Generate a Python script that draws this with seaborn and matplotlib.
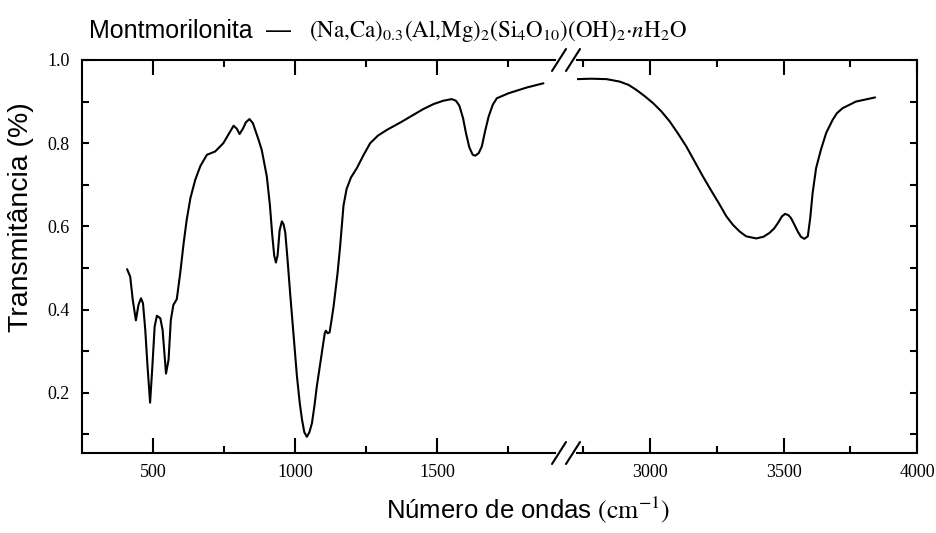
import matplotlib
matplotlib.use("Agg")
import matplotlib.pyplot as plt
from matplotlib.lines import Line2D
import seaborn as sns
import pandas as pd

# ---- data ----
left_wn = [407, 418, 427, 438, 447, 456, 463, 471, 479, 488, 496, 504, 512, 524, 532,
           544, 553, 561, 570, 582, 594, 606, 617, 630, 647, 665, 688, 717, 746, 770,
           782, 793, 803, 815, 825, 838, 850, 858, 870, 881, 899, 910, 918, 925, 931,
           937, 944, 952, 958, 964, 972, 981, 993, 1005, 1015, 1023, 1031, 1040, 1049,
           1058, 1067, 1075, 1086, 1096, 1103, 1107, 1113, 1120, 1127, 1134, 1148, 1157,
           1169, 1180, 1195, 1216, 1240, 1263, 1290, 1322, 1370, 1415, 1450, 1486, 1520,
           1550, 1565, 1577, 1590, 1600, 1612, 1624, 1633, 1645, 1656, 1668, 1680, 1695,
           1709, 1750, 1815, 1873]
left_t = [0.497, 0.479, 0.423, 0.374, 0.411, 0.427, 0.415, 0.351, 0.263, 0.176, 0.263,
          0.359, 0.385, 0.379, 0.351, 0.246, 0.279, 0.375, 0.411, 0.425, 0.487, 0.559,
          0.616, 0.668, 0.712, 0.745, 0.772, 0.780, 0.800, 0.828, 0.842, 0.835, 0.822,
          0.835, 0.850, 0.858, 0.848, 0.832, 0.808, 0.784, 0.720, 0.650, 0.580, 0.530,
          0.513, 0.530, 0.590, 0.612, 0.605, 0.585, 0.520, 0.440, 0.340, 0.240, 0.175,
          0.135, 0.105, 0.094, 0.105, 0.127, 0.170, 0.215, 0.265, 0.311, 0.343, 0.349,
          0.343, 0.345, 0.375, 0.407, 0.487, 0.551, 0.650, 0.690, 0.717, 0.740, 0.772,
          0.800, 0.818, 0.832, 0.850, 0.868, 0.882, 0.894, 0.902, 0.906, 0.902, 0.890,
          0.860, 0.825, 0.790, 0.772, 0.770, 0.776, 0.792, 0.830, 0.864, 0.893, 0.908,
          0.920, 0.934, 0.944]

right_wn = [2726, 2780, 2837, 2887, 2920, 2949, 2980, 3012, 3043, 3074, 3105, 3136, 3167,
            3198, 3230, 3261, 3285, 3310, 3335, 3360, 3398, 3425, 3447, 3465, 3479, 3494,
            3506, 3518, 3528, 3540, 3553, 3565, 3578, 3591, 3600, 3609, 3622, 3640, 3660,
            3684, 3700, 3721, 3771, 3843]
right_t = [0.954, 0.955, 0.954, 0.948, 0.940, 0.928, 0.913, 0.896, 0.876, 0.852, 0.823,
           0.792, 0.756, 0.720, 0.685, 0.652, 0.625, 0.604, 0.588, 0.576, 0.571, 0.575,
           0.584, 0.595, 0.608, 0.624, 0.630, 0.627, 0.620, 0.605, 0.588, 0.575, 0.570,
           0.576, 0.620, 0.680, 0.740, 0.784, 0.825, 0.856, 0.872, 0.884, 0.900, 0.910]

left_major = [500, 1000, 1500]
left_minor = [750, 1250, 1750]
right_major = [3000, 3500, 4000]
right_minor = [2750, 3250, 3750]
y_major = [0.2, 0.4, 0.6, 0.8, 1.0]
y_major_labels = ["0.2", "0.4", "0.6", "0.8", "1.0"]
y_minor = [0.1, 0.3, 0.5, 0.7, 0.9]

title_name = "Montmorilonita"
title_dash = "\u2014"
title_formula = (r"$\mathrm{(Na,\!Ca)_{0.3}(Al,\!Mg)_2(Si_4O_{10})(OH)_2{\cdot}}"
                 r"\mathit{n}\mathrm{H_2O}$")
xlabel = r"Número de ondas $\mathrm{(cm^{-1})}$"
ylabel = "Transmitância (%)"

# ---- figure ----
sns.set_style("ticks")
plt.rcParams.update({"text.color": "black", "xtick.color": "black",
                     "ytick.color": "black", "axes.labelcolor": "black"})
W, H = 937, 533
fig = plt.figure(figsize=(W / 100, H / 100), dpi=100)

bot = (H - 453) / H
hgt = (453 - 60) / H
axL = fig.add_axes([82.5 / W, bot, (555 - 82.5) / W, hgt])
axR = fig.add_axes([577 / W, bot, (917 - 577) / W, hgt])

dfL = pd.DataFrame({"wn": left_wn, "T": left_t})
dfR = pd.DataFrame({"wn": right_wn, "T": right_t})
sns.lineplot(data=dfL, x="wn", y="T", ax=axL, color="black", lw=1.5, estimator=None, sort=False)
sns.lineplot(data=dfR, x="wn", y="T", ax=axR, color="black", lw=1.5, estimator=None, sort=False)

axL.set_xlim(250, 250 + (555 - 82.5) / 0.284)
axR.set_xlim(2750 - (583.3 - 577) / 0.267, 4000)
for ax in (axL, axR):
    ax.set_ylim(0.055, 1.0)
    ax.set_xlabel("")
    ax.set_ylabel("")
    for s in ax.spines.values():
        s.set_linewidth(1.5)
        s.set_color("black")

tick_font = {"family": "Liberation Serif", "size": 13, "color": "black"}

axL.spines["right"].set_visible(False)
axR.spines["left"].set_visible(False)

axL.set_xticks(left_major)
axL.set_xticks(left_minor, minor=True)
axL.set_xticklabels([str(v) for v in left_major], fontdict=tick_font)
axR.set_xticks(right_major)
axR.set_xticks(right_minor, minor=True)
axR.set_xticklabels([str(v) for v in right_major], fontdict=tick_font)

axL.set_yticks(y_major)
axL.set_yticks(y_minor, minor=True)
axL.set_yticklabels(y_major_labels, fontdict=tick_font)
axR.set_yticks(y_major)
axR.set_yticks(y_minor, minor=True)

for ax in (axL, axR):
    ax.tick_params(axis="x", which="major", direction="in", length=11, width=1.5,
                   top=True, bottom=True, pad=8, colors="black")
    ax.tick_params(axis="x", which="minor", direction="in", length=5, width=1.5,
                   top=True, bottom=True, colors="black")
axL.tick_params(axis="y", which="both", direction="in", length=5, width=1.5,
                left=True, right=False, pad=9, colors="black")
axR.tick_params(axis="y", which="both", direction="in", length=5, width=1.5,
                left=False, right=True, labelleft=False, labelright=False, colors="black")

# break marks
def slash(x1, y1, x2, y2):
    fig.add_artist(Line2D([x1 / W, x2 / W], [1 - y1 / H, 1 - y2 / H],
                          transform=fig.transFigure, color="black", lw=1.5))

for yc in (453, 60):
    slash(552, yc + 11, 566, yc - 11)
    slash(566, yc + 11, 580, yc - 11)

# texts
fig.text(89 / W, 1 - 38 / H, title_name, family="Liberation Sans", fontsize=18,
         ha="left", va="baseline", color="black")
fig.text(266 / W, 1 - 38 / H, title_dash, family="Liberation Sans", fontsize=18,
         ha="left", va="baseline", color="black")
fig.text(309 / W, 1 - 37 / H, title_formula, math_fontfamily="stix", fontsize=16.5,
         ha="left", va="baseline", color="black")
fig.text(528 / W, 1 - 518 / H, xlabel, family="Liberation Sans", fontsize=18.5,
         math_fontfamily="stix", ha="center", va="baseline", color="black")
fig.text(21 / W, 1 - 217 / H, ylabel, family="Liberation Sans", fontsize=20.5,
         rotation=90, ha="center", va="center", color="black")

fig.savefig("out.png", dpi=100)
